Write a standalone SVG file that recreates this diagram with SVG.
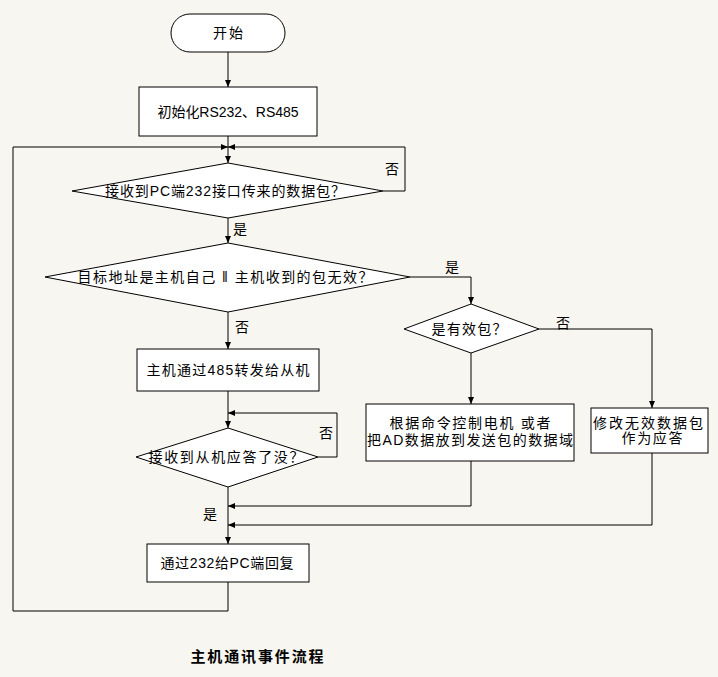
<svg xmlns="http://www.w3.org/2000/svg" width="718" height="677" viewBox="0 0 718 677">
<defs>
<marker id="arr" markerUnits="userSpaceOnUse" markerWidth="8" markerHeight="8" refX="7" refY="4" orient="auto">
<path d="M0,1 L7,4 L0,7 Z" fill="#000"/>
</marker>
<style>
.s{fill:#fff;stroke:#000;stroke-width:1}
.c{fill:none;stroke:#000;stroke-width:1;marker-end:url(#arr)}
.t{font-family:"Liberation Sans","Noto Sans CJK SC",sans-serif;font-size:14px;fill:#000;text-anchor:middle}
.b{font-weight:bold;font-size:15px}
</style>
</defs>
<rect width="718" height="677" fill="#f8f6f0"/>
<g id="connectors">
<path class="c" d="M228,52 V87"/>
<path class="c" d="M228,136 V163"/>
<path class="c" d="M228,582 V611 H13 V147 H228"/>
<path class="c" d="M383,191 H405 V147 H228"/>
<path class="c" d="M228,218 V243"/>
<path class="c" d="M228,312 V349"/>
<path class="c" d="M410,277 H471 V304"/>
<path class="c" d="M228,391 V428"/>
<path class="c" d="M318,457 H337 V413 H228"/>
<path class="c" d="M228,487 V544"/>
<path class="c" d="M471,353 V404"/>
<path class="c" d="M539,329 H652 V408"/>
<path class="c" d="M471,461 V506 H228"/>
<path class="c" d="M652,453 V525 H228"/>
<text class="t" x="392" y="174">否</text>
<text class="t" x="240" y="234">是</text>
<text class="t" x="452" y="272">是</text>
<text class="t" x="563" y="328">否</text>
<text class="t" x="242" y="332">否</text>
<text class="t" x="326" y="438">否</text>
<text class="t" x="210" y="519">是</text>
</g>
<g id="start">
<rect class="s" x="171" y="14" width="114" height="38" rx="19" ry="19"/>
<text class="t" x="228" y="38" textLength="30" lengthAdjust="spacing">开始</text>
</g>
<g id="init">
<rect class="s" x="139" y="87" width="178" height="49"/>
<text class="t" x="228" y="117" textLength="141" lengthAdjust="spacing">初始化RS232、RS485</text>
</g>
<g id="d1">
<polygon class="s" points="228,163 383,191 228,218 72,191"/>
<text class="t" x="225" y="196" textLength="240" lengthAdjust="spacing">接收到PC端232接口传来的数据包？</text>
</g>
<g id="d2">
<polygon class="s" points="228,243 410,277 228,312 45,277"/>
<text class="t" x="225" y="282" textLength="295" lengthAdjust="spacing">目标地址是主机自己 ‖ 主机收到的包无效？</text>
</g>
<g id="forward">
<rect class="s" x="137" y="349" width="182" height="42"/>
<text class="t" x="228" y="375" textLength="163" lengthAdjust="spacing">主机通过485转发给从机</text>
</g>
<g id="d4">
<polygon class="s" points="228,428 318,457 228,487 136,457"/>
<text class="t" x="226" y="462" textLength="155" lengthAdjust="spacing">接收到从机应答了没？</text>
</g>
<g id="reply">
<rect class="s" x="147" y="544" width="162" height="38"/>
<text class="t" x="227" y="568" textLength="133" lengthAdjust="spacing">通过232给PC端回复</text>
</g>
<g id="d3">
<polygon class="s" points="471,304 539,329 471,353 404,329"/>
<text class="t" x="469" y="334" textLength="75" lengthAdjust="spacing">是有效包？</text>
</g>
<g id="control">
<rect class="s" x="366" y="404" width="208" height="57"/>
<text class="t" x="470" y="428" textLength="161" lengthAdjust="spacing">根据命令控制电机 或者</text>
<text class="t" x="470" y="445" textLength="206" lengthAdjust="spacing">把AD数据放到发送包的数据域</text>
</g>
<g id="modify">
<rect class="s" x="591" y="408" width="117" height="45"/>
<text class="t" x="648" y="428" textLength="110" lengthAdjust="spacing">修改无效数据包</text>
<text class="t" x="652" y="443" textLength="61" lengthAdjust="spacing">作为应答</text>
</g>
<g id="title">
<text class="t b" x="257" y="662" textLength="133" lengthAdjust="spacing">主机通讯事件流程</text>
</g>
</svg>
